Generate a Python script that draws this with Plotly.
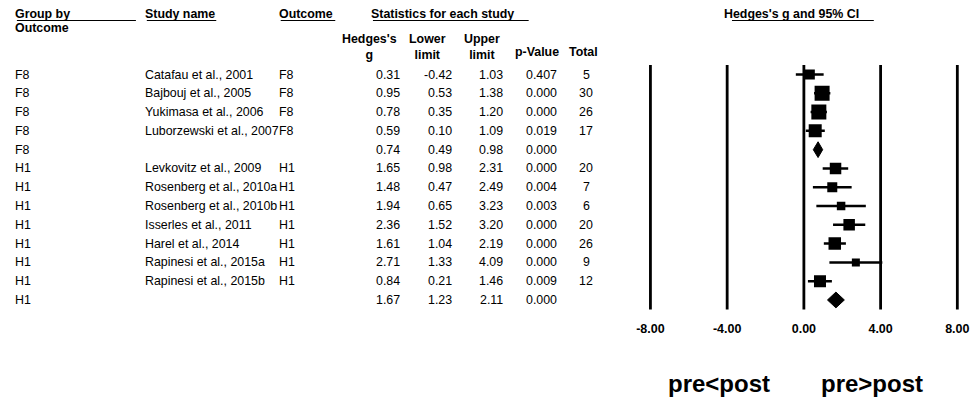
import plotly.graph_objects as go

# ---- study data -------------------------------------------------------------
groups = ["F8", "F8", "F8", "F8", "F8",
          "H1", "H1", "H1", "H1", "H1", "H1", "H1", "H1"]
studies = ["Catafau et al., 2001", "Bajbouj et al., 2005", "Yukimasa et al., 2006",
           "Luborzewski et al., 2007", "",
           "Levkovitz et al., 2009", "Rosenberg et al., 2010a", "Rosenberg et al., 2010b",
           "Isserles et al., 2011", "Harel et al., 2014", "Rapinesi et al., 2015a",
           "Rapinesi et al., 2015b", ""]
outcomes = ["F8", "F8", "F8", "F8", "", "H1", "H1", "H1", "H1", "H1", "H1", "H1", ""]
hedges_g = [0.31, 0.95, 0.78, 0.59, 0.74, 1.65, 1.48, 1.94, 2.36, 1.61, 2.71, 0.84, 1.67]
lower_ci = [-0.42, 0.53, 0.35, 0.10, 0.49, 0.98, 0.47, 0.65, 1.52, 1.04, 1.33, 0.21, 1.23]
upper_ci = [1.03, 1.38, 1.20, 1.09, 0.98, 2.31, 2.49, 3.23, 3.20, 2.19, 4.09, 1.46, 2.11]
p_values = [0.407, 0.000, 0.000, 0.019, 0.000, 0.000, 0.004, 0.003, 0.000, 0.000, 0.000, 0.009, 0.000]
totals = ["5", "30", "26", "17", "", "20", "7", "6", "20", "26", "9", "12", ""]
is_pooled = [False, False, False, False, True,
             False, False, False, False, False, False, False, True]

axis_ticks = [-8, -4, 0, 4, 8]
axis_tick_text = ["-8.00", "-4.00", "0.00", "4.00", "8.00"]

# ---- styling ----------------------------------------------------------------
W, H = 974, 404
FONT = "Arial, Liberation Sans, sans-serif"
BODY_SIZE = 12.4
BOX_PX = [10, 15, 15, 13, 0, 11.5, 10, 8.5, 11.5, 12.5, 8, 12, 0]   # weight boxes
DIAMOND_HALF = 0.42
ROW_TOP_PX, ROW_STEP_PX = 74.5, 18.79
PLOT_BOTTOM_PX = 318
LEFT_PAD = 4   # annotation box padding compensation


def px(x):
    return x / W


def py(y):
    return 1 - y / H


rows = list(range(len(hedges_g)))
n_rows = len(rows)

fig = go.Figure()

# individual studies: square + CI whisker
st_idx = [i for i in rows if not is_pooled[i]]
fig.add_trace(go.Scatter(
    x=[hedges_g[i] for i in st_idx],
    y=[rows[i] for i in st_idx],
    mode="markers",
    marker=dict(symbol="square", color="black", opacity=1,
                size=[BOX_PX[i] for i in st_idx], line=dict(width=0)),
    error_x=dict(type="data", symmetric=False,
                 array=[upper_ci[i] - hedges_g[i] for i in st_idx],
                 arrayminus=[hedges_g[i] - lower_ci[i] for i in st_idx],
                 color="black", thickness=2.5, width=0),
    showlegend=False, hoverinfo="skip",
))

# pooled estimates: diamonds spanning the CI
for i in rows:
    if is_pooled[i]:
        fig.add_trace(go.Scatter(
            x=[lower_ci[i], hedges_g[i], upper_ci[i], hedges_g[i], lower_ci[i]],
            y=[rows[i], rows[i] - DIAMOND_HALF, rows[i], rows[i] + DIAMOND_HALF, rows[i]],
            mode="lines", fill="toself", fillcolor="black",
            line=dict(color="black", width=1),
            showlegend=False, hoverinfo="skip",
        ))

# vertical reference lines
shapes = []
for t in axis_ticks:
    shapes.append(dict(type="line", xref="x", yref="y", x0=t, x1=t,
                       y0=-0.5, y1=n_rows - 0.5,
                       line=dict(color="black", width=2.8), layer="below"))

# header underlines
for x0, x1 in [(12, 132), (143, 213), (278, 333), (371, 528), (733, 876)]:
    shapes.append(dict(type="line", xref="paper", yref="paper",
                       x0=px(x0), x1=px(x1), y0=py(20.5), y1=py(20.5),
                       line=dict(color="black", width=1.2)))

ann = []


def txt(text, x_px, y, xanchor="left", yref="paper", size=BODY_SIZE, bold=False):
    if xanchor == "left":
        x_px -= LEFT_PAD
    ann.append(dict(text=f"<b>{text}</b>" if bold else text,
                    x=px(x_px), y=y, xref="paper", yref=yref,
                    xanchor=xanchor, yanchor="middle", showarrow=False,
                    align="center",
                    font=dict(family=FONT, size=size, color="black")))


# column headers
txt("Group by", 12, py(14), bold=True)
txt("Outcome", 12, py(28), bold=True)
txt("Study name", 143, py(14), bold=True)
txt("Outcome", 278, py(14), bold=True)
txt("Statistics for each study", 371, py(14), bold=True)
txt("Hedges's g and 95% CI", 727, py(14), bold=True)
txt("Hedges's<br>g", 368, py(46.5), xanchor="center", bold=True)
txt("Lower<br>limit", 426, py(46.5), xanchor="center", bold=True)
txt("Upper<br>limit", 481, py(46.5), xanchor="center", bold=True)
txt("p-Value", 536, py(52), xanchor="center", bold=True)
txt("Total", 583, py(52), xanchor="center", bold=True)

# table body
for i in rows:
    txt(groups[i], 12, rows[i], yref="y")
    if studies[i]:
        txt(studies[i], 143, rows[i], yref="y")
    if outcomes[i]:
        txt(outcomes[i], 278, rows[i], yref="y")
    txt(f"{hedges_g[i]:.2f}", 400, rows[i], xanchor="right", yref="y")
    txt(f"{lower_ci[i]:.2f}", 453, rows[i], xanchor="right", yref="y")
    txt(f"{upper_ci[i]:.2f}", 504, rows[i], xanchor="right", yref="y")
    txt(f"{p_values[i]:.3f}", 559, rows[i], xanchor="right", yref="y")
    if totals[i]:
        txt(totals[i], 586, rows[i], xanchor="center", yref="y")

# direction labels
txt("pre&lt;post", 720, py(383), xanchor="center", size=24, bold=True)
txt("pre&gt;post", 874.5, py(383), xanchor="center", size=24, bold=True)

# axis geometry: 0 at 805.5 px, 19.34 px per unit
x0_px, unit_px = 805.5, 19.34
x_lo, x_hi = -8.5, 8.5
dom_x = [px(x0_px + x_lo * unit_px), px(x0_px + x_hi * unit_px)]
y_top = -ROW_TOP_PX / ROW_STEP_PX
y_bot = (PLOT_BOTTOM_PX - ROW_TOP_PX) / ROW_STEP_PX

fig.update_layout(
    width=W, height=H,
    margin=dict(l=0, r=0, t=0, b=0),
    paper_bgcolor="white", plot_bgcolor="white",
    shapes=shapes, annotations=ann,
    xaxis=dict(domain=dom_x, range=[x_lo, x_hi], tickvals=axis_ticks,
               ticktext=axis_tick_text, showgrid=False, zeroline=False,
               showline=False, ticks="", ticklabelstandoff=1,
               tickfont=dict(family=FONT, size=12.5, color="black", weight="bold")),
    yaxis=dict(domain=[py(PLOT_BOTTOM_PX), 1], range=[y_bot, y_top],
               visible=False, showgrid=False, zeroline=False),
)

fig.write_html("out.html")
